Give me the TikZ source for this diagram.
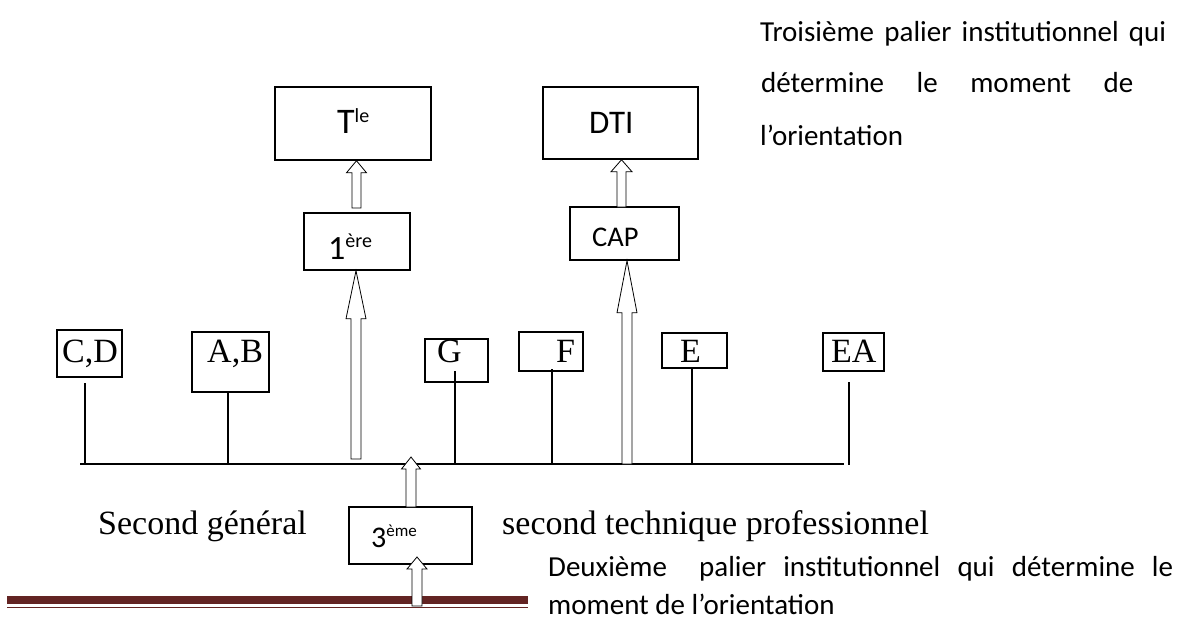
\documentclass[tikz,border=0pt]{standalone}
\usepackage{fontspec}
\setmainfont{Carlito}
\newfontfamily\serifface{Liberation Serif}
\usetikzlibrary{calc}
\definecolor{barred}{HTML}{632423}
\newcommand\hsup[3]{\raisebox{#2pt}{\fontsize{#1}{#1}\selectfont #3}}
% #1 bottom coordinate, #2 tip coordinate, #3 shaft half width, #4 head half width, #5 head length
\newcommand\blockarrow[5]{%
  \draw[blockarr] ($(#1)+(-#3,0)$) -- ($(#2)+(-#3,#5)$) -- ($(#2)+(-#4,#5)$) -- (#2)
    -- ($(#2)+(#4,#5)$) -- ($(#2)+(#3,#5)$) -- ($(#1)+(#3,0)$) -- cycle;}
\begin{document}
\begin{tikzpicture}[x=1pt,y=-1pt,
  box/.style={draw, line width=1.5pt, inner sep=0pt},
  stem/.style={line width=1.7pt},
  blockarr/.style={draw, line width=0.8pt, fill=white},
  lbl/.style={anchor=base west, inner sep=0pt},
  serifl/.style={lbl, font=\serifface\fontsize{34}{34}\selectfont},
  para/.style={lbl, font=\fontsize{29}{29}\selectfont}]
\useasboundingbox (0,0) rectangle (1178,619);

% boxes
\node[box, minimum width=156pt, minimum height=73pt] (tle) at (353,123.5) {};
\node[box, minimum width=155pt, minimum height=72pt] (dti) at (620.5,123) {};
\node[box, minimum width=106pt, minimum height=57pt] (prem) at (357,241.5) {};
\node[box, minimum width=109pt, minimum height=53pt] (cap) at (624.5,233.5) {};
\node[box, minimum width=65pt, minimum height=47pt] (cd) at (89.5,353.5) {};
\node[box, minimum width=77pt, minimum height=60pt] (ab) at (230.5,362) {};
\node[box, minimum width=63pt, minimum height=43pt] (g) at (456.5,360.5) {};
\node[box, minimum width=64pt, minimum height=39pt] (f) at (551,351.5) {};
\node[box, minimum width=65pt, minimum height=35pt] (e) at (694.5,350.5) {};
\node[box, line width=1.2pt, minimum width=61pt, minimum height=38pt] (ea) at (853.5,352) {};
\node[box, minimum width=123pt, minimum height=57pt] (trois) at (410.5,535.5) {};

% box labels
\node[lbl, font=\fontsize{36}{36}\selectfont] (ttle) at (337,133) {T\hsup{20}{11}{le}};
\node[lbl, font=\fontsize{33}{33}\selectfont] (tdti) at (589,133) {DTI};
\node[lbl, font=\fontsize{34}{34}\selectfont] (tprem) at (328,259) {1\hsup{20}{12}{ère}};
\node[lbl, font=\fontsize{28.5}{28.5}\selectfont] (tcap) at (592,246) {CAP};
\node[lbl, font=\fontsize{30}{30}\selectfont] (ttrois) at (371,547) {3\hsup{17}{11}{ème}};
\node[serifl] (tcd) at (62,362) {C,D};
\node[serifl] (tab) at (207,362) {A,B};
\node[serifl] (tg) at (437,362) {G};
\node[serifl] (tf) at (556,362) {F};
\node[serifl] (te) at (680,362) {E};
\node[serifl] (tea) at (831,362) {EA};

% horizontal base line and stems
\coordinate (bl) at (80,464);
\coordinate (br) at (844,464);
\draw[stem] (bl) -- (br);
\coordinate (cdt) at (85,383);
\coordinate (abt) at (228,392);
\coordinate (gt) at (455,371);
\coordinate (ft) at (552,369);
\coordinate (et) at (692,368);
\coordinate (eat) at (849,382);
\foreach \c in {cdt,abt,gt,ft,et}{\draw[stem] (\c) -- (\c |- bl);}
\draw[stem, line width=1.3pt] (eat) -- ($(eat |- br)+(0,1)$);

% red bar
\fill[barred] (7,596) rectangle (528,604);
\draw[barred, line width=1.4pt] (7,607.5) -- (528,607.5);

% block arrows
\coordinate (a1b) at (356.5,208);
\blockarrow{a1b}{a1b |- tle.south}{4.5}{10}{12}
\coordinate (a2b) at (356,459);
\blockarrow{a2b}{a2b |- prem.south}{5}{10}{48}
\coordinate (a3b) at (621.5,207);
\blockarrow{a3b}{a3b |- dti.south}{4.5}{10.5}{12}
\coordinate (a4b) at (627,464);
\blockarrow{a4b}{a4b |- cap.south}{5}{10}{52}
\coordinate (a5b) at (411,507);
\coordinate (a5t) at (411,457);
\blockarrow{a5b}{a5t}{5}{9.5}{12}
\coordinate (a6b) at (417,606);
\coordinate (a6t) at (417,557);
\blockarrow{a6b}{a6t}{5}{10}{12}

% texts
\node[serifl] (sg) at (98,534) {Second général};
\node[serifl] (stp) at (502,534) {second technique professionnel};
\node[para] (p1) at (760,41) {\makebox[406pt][s]{Troisième palier institutionnel qui}};
\node[para] (p2) at (761,92.5) {\makebox[372pt][s]{détermine le moment de}};
\node[para] (p3) at (760,145) {l’orientation};
\node[para] (q1) at (548,576) {\makebox[625pt][s]{Deuxième\hspace{15pt} palier institutionnel qui détermine le}};
\node[para] (q2) at (548,614.5) {moment de l’orientation};
\end{tikzpicture}
\end{document}
